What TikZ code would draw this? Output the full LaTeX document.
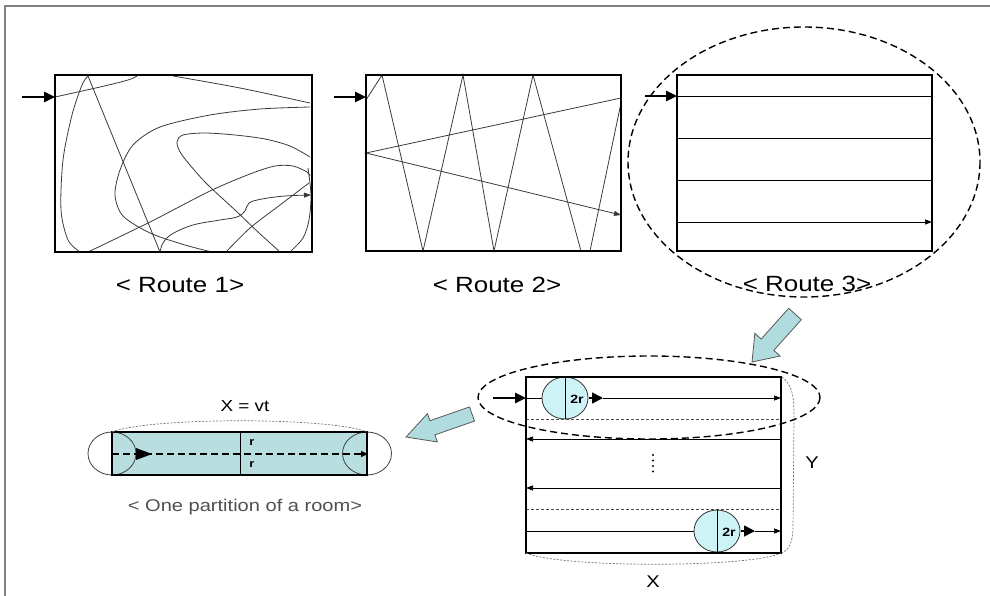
\documentclass[tikz,border=0pt]{standalone}
\usepackage{fontspec}
\newfontfamily\labfont[FakeStretch=1.18]{Liberation Sans}
\usetikzlibrary{arrows.meta,calc}
\definecolor{pathgray}{HTML}{3A3A3A}
\definecolor{robotfill}{HTML}{CDF3F6}
\definecolor{stripfill}{HTML}{B8DEE0}
\definecolor{blockfill}{HTML}{B0DCE0}
\definecolor{framegray}{HTML}{808080}
\definecolor{captiongray}{HTML}{505050}
\begin{document}
\begin{tikzpicture}[x=1pt,y=-1pt,
  wall/.style={line width=2.6pt,black},
  track/.style={line width=0.8pt,pathgray},
  thinline/.style={line width=0.7pt,black},
  entry/.style={line width=2.6pt,-{Triangle[length=11pt,width=10pt]}},
  smalltip/.style={-{Triangle[length=7pt,width=5pt]}},
  zone/.style={line width=1.4pt,dash pattern=on 7pt off 4pt},
  faint/.style={line width=0.7pt,black!55,dash pattern=on 2pt off 1.5pt},
  blockarrow/.style={fill=blockfill,draw=black!65,line width=0.8pt,line join=miter},
  robot/.style={draw=black!80,fill=robotfill,line width=0.8pt},
  lbl/.style={font=\labfont\fontsize{22}{24}\selectfont,inner sep=0pt},
  small/.style={font=\labfont\bfseries\fontsize{12}{14}\selectfont,inner sep=0pt},
]
\useasboundingbox (0,0) rectangle (990,596);
\clip (0,0) rectangle (990,596);
% outer frame
\draw[framegray,line width=1.2pt] (5,620) -- (5,6) -- (1000,6);

% ---------------- Route 1: random wandering ----------------
\coordinate (in1) at (22,97);
\coordinate (e1) at (55,97);
\draw[track] plot[smooth,tension=0.6] coordinates {(55,97) (100,87) (128,80) (137,76)};
\draw[track] plot[smooth] coordinates {(173,76) (240,88) (310,103)};
\draw[track] plot[smooth] coordinates {(310,107) (260,109) (210,115) (160,127) (133,145) (120,170) (115,195) (123,216) (150,233) (185,245) (212,252)};
\draw[track] plot[smooth] coordinates {(80,252) (68,240) (61,210) (63,160) (72,115) (82,85) (88,76)};
\draw[track] (88,76) -- (160,252);
\draw[track] plot[smooth] coordinates {(88,252) (150,222) (210,191) (250,174) (275,166) (293,166) (307,172) (310,176)};
\draw[track] plot[smooth] coordinates {(310,157) (290,146) (265,139) (235,135) (205,133) (183,135) (177,142) (182,155) (205,182) (235,210) (258,232) (280,252)};
\draw[track] plot[smooth] coordinates {(308,168) (311,195) (309,220) (303,238) (290,252)};
\draw[track] plot[smooth] coordinates {(309,183) (280,205) (250,228) (226,252)};
\draw[track,smalltip] plot[smooth,tension=0.6] coordinates {(160,252) (163,243) (172,234) (193,225) (220,220) (237,217) (245,211) (249,203) (262,199) (285,196) (311,195)};
\draw[wall] (55,75) rectangle (312,252);
\draw[entry] (in1) -- (e1);
\node[lbl] (cap1) at (180,285) {< Route 1>};

% ---------------- Route 2: zigzag ----------------
\coordinate (in2) at (334,97);
\coordinate (e2) at (366,97);
\draw[track] (366,100) -- (382,75) -- (423,251) -- (463,75) -- (494,251) -- (533,75) -- (581,251) -- (590,251) -- (621,103);
\draw[track,smalltip] (621,98) -- (366,153) -- (621,215);
\draw[wall] (366,75) rectangle (621,251);
\draw[entry] (in2) -- (e2);
\node[lbl] (cap2) at (497,285) {< Route 2>};

% ---------------- Route 3: parallel sweeps ----------------
\coordinate (in3) at (645,96);
\coordinate (e3) at (677,96);
\foreach \yy in {96,138,180} \draw[thinline] (677,\yy) -- (932,\yy);
\draw[thinline,smalltip] (677,222) -- (932,222);
\draw[wall] (677,75) rectangle (932,251);
\draw[entry] (in3) -- (e3);
\node[lbl] (cap3) at (807,284) {< Route 3>};
\draw[zone] (804,162) ellipse [x radius=176, y radius=135];

% ---------------- block arrows ----------------
\coordinate (t1) at (795,314);
\coordinate (p1) at (752,362);
\coordinate (h1) at ($(t1)!0.64!(p1)$);
\filldraw[blockarrow] ($(t1)!8.5pt!90:(p1)$) -- ($(h1)!8.5pt!90:(p1)$) -- ($(h1)!17pt!90:(p1)$) -- (p1)
  -- ($(h1)!17pt!-90:(p1)$) -- ($(h1)!8.5pt!-90:(p1)$) -- ($(t1)!8.5pt!-90:(p1)$) -- cycle;

\coordinate (t2) at (472,414);
\coordinate (p2) at (406,437);
\coordinate (h2) at ($(t2)!0.6!(p2)$);
\filldraw[blockarrow] ($(t2)!7.5pt!90:(p2)$) -- ($(h2)!7.5pt!90:(p2)$) -- ($(h2)!15pt!90:(p2)$) -- (p2)
  -- ($(h2)!15pt!-90:(p2)$) -- ($(h2)!7.5pt!-90:(p2)$) -- ($(t2)!7.5pt!-90:(p2)$) -- cycle;

% ---------------- room sweep detail ----------------
\coordinate (in4) at (493,398);
\coordinate (e4) at (526,398);
% first row
\draw[thinline] (526,398) -- (542,398);
\draw[robot] (565,398) ellipse [x radius=23, y radius=21];
\draw[thinline] (565,377) -- (565,419);
\node[small] (d1) at (577,399) {2r};
\draw[line width=1.6pt,-{Triangle[length=11pt,width=11pt]}] (589,398) -- (603,398);
\draw[thinline,smalltip] (603,398) -- (781,398);
% strip borders and return rows
\draw[faint,black!70,dash pattern=on 3pt off 2pt] (526,419) -- (781,419);
\draw[thinline,smalltip] (781,439) -- (526,439);
\draw[thinline,smalltip] (781,488) -- (526,488);
\draw[faint,black!70,dash pattern=on 3pt off 2pt] (526,509) -- (781,509);
\foreach \yy in {455,460.5,466,471.5} \fill (653,\yy) circle (1.2);
% last row
\draw[thinline] (526,531) -- (694,531);
\draw[robot] (717,531) ellipse [x radius=23, y radius=21];
\draw[thinline] (717,510) -- (717,552);
\node[small] (d2) at (729,532) {2r};
\draw[line width=1.6pt,-{Triangle[length=11pt,width=11pt]}] (741,531) -- (755,531);
\draw[thinline,smalltip] (755,531) -- (781,531);
\draw[wall] (526,377) rectangle (781,553);
\draw[entry] (in4) -- (e4);
% dimension brackets
\draw[faint] (782,377) .. controls (792,385) and (794,395) .. (794,415) -- (793,530) .. controls (792,545) and (788,550) .. (782,553);
\draw[faint] (526,553) .. controls (560,568) and (750,568) .. (781,553);
\node[font=\labfont\fontsize{17}{19}\selectfont,inner sep=0pt] (ylab) at (812,463) {Y};
\node[font=\labfont\fontsize{17}{19}\selectfont,inner sep=0pt] (xlab) at (653,582) {X};
\draw[zone] (649,397.5) ellipse [x radius=171, y radius=41.5];

% ---------------- one partition ----------------
\fill[stripfill] (112,432) rectangle (367,475);
\draw[line width=0.8pt,black!75] (112,453.5) ellipse [x radius=24, y radius=21.5];
\draw[line width=0.8pt,black!75] (367,453.5) ellipse [x radius=24.5, y radius=21.5];
\draw[thinline] (240,432) -- (240,475);
\draw[line width=1.5pt,dash pattern=on 7pt off 4pt] (112,454) -- (362,454);
\draw[-{Triangle[length=7pt,width=6pt]},line width=0.8pt] (360,454) -- (368,454);
\fill (136,448) -- (152,454) -- (136,460) -- cycle;
\draw[wall] (112,432) rectangle (367,475);
\node[small,font=\labfont\bfseries\fontsize{11}{13}\selectfont] (r1) at (252,443) {r};
\node[small,font=\labfont\bfseries\fontsize{11}{13}\selectfont] (r2) at (252,465) {r};
\draw[faint] (112,432) .. controls (150,417) and (330,417) .. (367,432);
\node[font=\labfont\fontsize{16}{18}\selectfont,inner sep=0pt] (xvt) at (245,406) {X = vt};
\node[font=\labfont\fontsize{17}{19}\selectfont,inner sep=0pt,text=captiongray] (cap4) at (245,507) {< One partition of a room>};
\end{tikzpicture}
\end{document}
